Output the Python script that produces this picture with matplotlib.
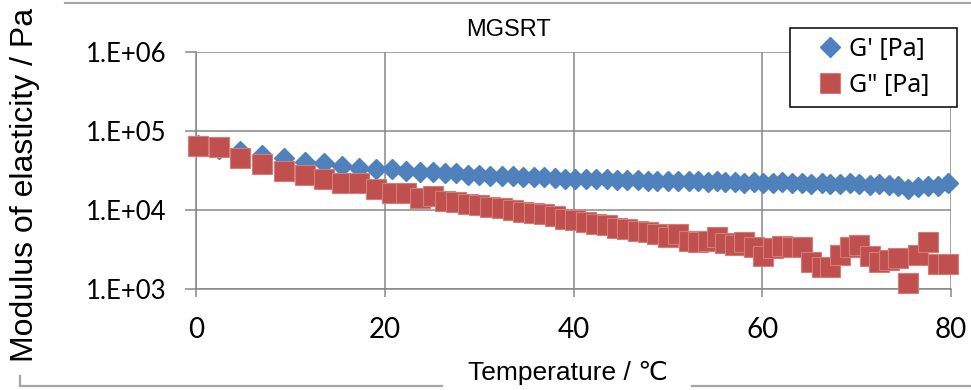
import matplotlib
matplotlib.use('Agg')
import matplotlib.pyplot as plt
from matplotlib.lines import Line2D

# temperature sweep (deg C)
temp = [0.2, 2.4, 4.7, 7.0, 9.3, 11.5, 13.6, 15.5, 17.3, 19.1,
        20.8, 22.3, 23.7, 25.1, 26.4, 27.6, 28.8, 30.0, 31.2, 32.4,
        33.6, 34.7, 35.8, 36.9, 38.0, 39.1, 40.2, 41.3, 42.4, 43.5,
        44.6, 45.7, 46.8, 47.9, 48.9, 50.0, 51.1, 52.2, 53.2, 54.2,
        55.2, 56.1, 57.1, 58.1, 59.1, 60.1, 61.1, 62.1, 63.1, 64.2,
        65.2, 66.3, 67.2, 68.2, 69.3, 70.3, 71.4, 72.4, 73.4, 74.4,
        75.4, 76.5, 77.6, 78.6, 79.7]

# storage modulus G' [Pa]
g_storage = [6.6e4, 5.9e4, 5.6e4, 4.9e4, 4.5e4, 4.1e4, 3.9e4, 3.6e4, 3.4e4, 3.3e4,
             3.3e4, 3.1e4, 3.0e4, 3.0e4, 2.9e4, 2.9e4, 2.8e4, 2.8e4, 2.7e4, 2.7e4,
             2.7e4, 2.6e4, 2.6e4, 2.6e4, 2.55e4, 2.5e4, 2.5e4, 2.5e4, 2.45e4, 2.45e4,
             2.4e4, 2.4e4, 2.4e4, 2.35e4, 2.35e4, 2.3e4, 2.35e4, 2.3e4, 2.3e4, 2.25e4,
             2.3e4, 2.25e4, 2.25e4, 2.2e4, 2.25e4, 2.2e4, 2.2e4, 2.25e4, 2.2e4, 2.2e4,
             2.15e4, 2.2e4, 2.15e4, 2.15e4, 2.2e4, 2.15e4, 2.1e4, 2.15e4, 2.05e4, 2.0e4,
             1.85e4, 1.95e4, 2.0e4, 2.0e4, 2.2e4]

# loss modulus G'' [Pa]
g_loss = [6.4e4, 6.2e4, 4.6e4, 3.8e4, 3.1e4, 2.8e4, 2.5e4, 2.2e4, 2.2e4, 1.85e4,
          1.65e4, 1.65e4, 1.4e4, 1.5e4, 1.3e4, 1.25e4, 1.2e4, 1.15e4, 1.1e4, 1.05e4,
          1.0e4, 9.5e3, 9.2e3, 8.8e3, 8.3e3, 7.8e3, 7.4e3, 7.0e3, 6.6e3, 6.4e3,
          6.0e3, 5.8e3, 5.5e3, 5.2e3, 5.0e3, 4.5e3, 5.0e3, 4.0e3, 3.9e3, 4.0e3,
          4.6e3, 3.8e3, 3.6e3, 3.9e3, 3.4e3, 2.6e3, 3.3e3, 3.5e3, 3.4e3, 3.4e3,
          2.2e3, 1.9e3, 1.9e3, 2.7e3, 3.4e3, 3.6e3, 2.6e3, 2.2e3, 2.3e3, 2.5e3,
          1.2e3, 2.7e3, 3.9e3, 2.1e3, 2.1e3]

x_ticks = [0, 20, 40, 60, 80]
y_ticks = [1e3, 1e4, 1e5, 1e6]
y_tick_labels = ['1.E+03', '1.E+04', '1.E+05', '1.E+06']

W, H = 971, 390
grid_col = '#878787'
frame_col = '#a6a6a6'

fig = plt.figure(figsize=(W / 100, H / 100), dpi=100)
ax = fig.add_axes([196 / W, 1 - 289 / H, 755 / W, 237 / H])

ax.plot(temp, g_storage, linestyle='none', marker='D', markersize=10,
        color='#4F81BD', markeredgecolor='#4F81BD', clip_on=False,
        label="G' [Pa]", zorder=3)
ax.plot(temp, g_loss, linestyle='none', marker='s', markersize=14,
        color='#C0504D', markeredgecolor='#D47C7A', markeredgewidth=0.8,
        clip_on=False, label='G" [Pa]', zorder=4)

ax.set_yscale('log')
ax.set_xlim(0, 80)
ax.set_ylim(1e3, 1e6)
ax.set_xticks(x_ticks)
ax.set_yticks(y_ticks)
ax.set_yticklabels(y_tick_labels)
ax.minorticks_off()

for lab in ax.get_yticklabels():
    lab.set_fontfamily('Lato')
    lab.set_fontsize(18.5)
for lab in ax.get_xticklabels():
    lab.set_fontfamily('Lato')
    lab.set_fontsize(20)

ax.tick_params(axis='y', direction='out', length=8, width=1.1, color=grid_col, pad=13)
ax.tick_params(axis='x', direction='out', length=6, width=1.1, color=grid_col, pad=14)

ax.grid(True, color=grid_col, linewidth=1.1)
ax.set_axisbelow(True)
for side in ['top', 'right']:
    ax.spines[side].set_visible(False)
for side in ['left', 'bottom']:
    ax.spines[side].set_color(grid_col)
    ax.spines[side].set_linewidth(1.1)

ax.set_ylabel('Modulus of elasticity / Pa', family='Liberation Sans', fontsize=23, va='center')
ax.yaxis.set_label_coords((25 - 196) / 755, (289 - 185) / 237)
ax.set_xlabel('Temperature / ℃', family=['Liberation Sans', 'DejaVu Sans'], fontsize=19, va='center')
ax.xaxis.set_label_coords((568 - 196) / 755, (289 - 373) / 237)

fig.text(508 / W, 1 - 30 / H, 'MGSRT', family='Liberation Sans', fontsize=17,
         ha='center', va='center')

leg = ax.legend(loc='upper left', bbox_to_anchor=(790 / W, 1 - 106 / H, 167 / W, 78 / H),
                bbox_transform=fig.transFigure, mode='expand', fancybox=False,
                edgecolor='black', framealpha=1, borderpad=0.35, handlelength=2.5,
                handletextpad=-0.5, labelspacing=0.45, borderaxespad=0,
                prop={'family': 'Noto Sans', 'size': 18})
leg.get_frame().set_linewidth(1.1)

# chart area frame pieces
fig.add_artist(Line2D([65 / W, 1], [1 - 3 / H, 1 - 3 / H], color=frame_col, linewidth=1.6))
fig.add_artist(Line2D([20 / W, 442 / W], [1 - 386 / H, 1 - 386 / H], color=frame_col, linewidth=1.6))
fig.add_artist(Line2D([692 / W, 1], [1 - 386 / H, 1 - 386 / H], color=frame_col, linewidth=1.6))
fig.add_artist(Line2D([20 / W, 20 / W], [1 - 376 / H, 1 - 386 / H], color=frame_col, linewidth=1.6))

fig.savefig('out.png', dpi=100)
